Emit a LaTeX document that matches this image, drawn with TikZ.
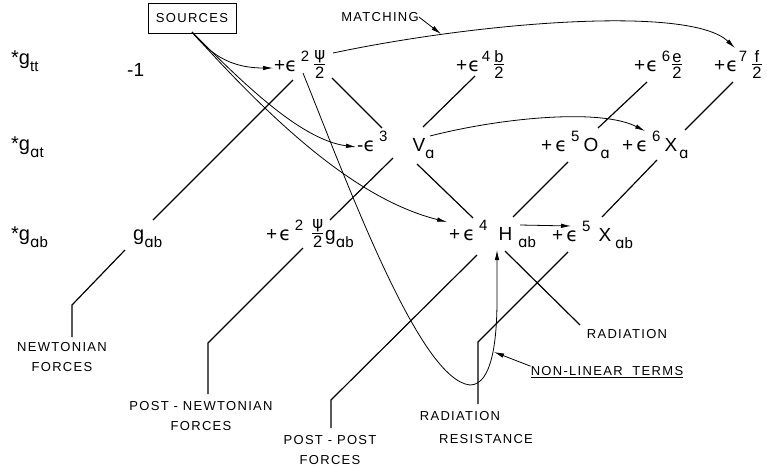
\documentclass[tikz,border=0pt]{standalone}
\usepackage{fontspec}
\setmainfont{Liberation Sans}
\newfontfamily\gr{DejaVu Sans}
\newfontfamily\lblfont[LetterSpace=10]{Liberation Sans}
\usetikzlibrary{arrows.meta}

% epsilon, raised power, lowered index, stacked fraction
\newcommand{\ep}{{\gr ϵ}}
\newcommand{\pw}[1]{\hspace{4pt}\raisebox{10pt}{\fontsize{15}{15}\selectfont #1}}
\newcommand{\lo}[1]{\raisebox{-7pt}{\fontsize{15}{15}\selectfont #1}}
\newcommand{\fra}[2]{\raisebox{-7pt}{\fontsize{16.5}{16.5}\selectfont\vbox{\halign{\hfil##\hfil\cr #1\cr\noalign{\kern1.2pt\hrule height0.9pt\kern1.5pt}#2\cr}}}}

\tikzset{
  term/.style={anchor=base west, inner sep=0pt, font=\fontsize{19}{22}\selectfont},
  bigg/.style={term, font=\fontsize{20}{22}\selectfont},
  lbl/.style={font=\lblfont\fontsize{13}{20}\selectfont, align=center, inner sep=0pt},
  lattice/.style={line width=1.2pt},
  fine/.style={line width=0.8pt},
  arr/.style={-{Latex[length=10pt,width=4.5pt]}}
}

\begin{document}
\begin{tikzpicture}[x=1pt,y=-1pt]
\useasboundingbox (0,0) rectangle (767,467);

% row labels
\node[bigg] (Rtt) at (11,64) {*g\lo{tt}};
\node[bigg] (Rat) at (11,150) {*g\lo{{\gr ɑ}t}};
\node[bigg] (Rab) at (11,240) {*g\lo{{\gr ɑ}b}};

% terms of the expansion
\node[term] (m1) at (127,76) {-1};
\node[term] (t1) at (274,71) {+\ep\pw{2}\hspace{5pt}\fra{\gr ψ}{2}};
\node[term] (t2) at (456,71) {+\hspace{1pt}\ep\hspace{-2pt}\pw{4}\hspace{4pt}\fra{b}{2}};
\node[term] (t3) at (634,71) {+\hspace{1pt}\ep\pw{6}\hspace{2pt}\fra{e}{2}};
\node[term] (t4) at (714,71) {+\hspace{1pt}\ep\hspace{-3pt}\pw{7}\hspace{5pt}\fra{f}{2}};

\node[term] (t5) at (357,151) {-\ep\pw{3}\hspace{25pt}V\lo{\gr ɑ}};
\node[term] (t6) at (541,151) {+\,\ep\pw{5}\hspace{4pt}O\hspace{2pt}\lo{\gr ɑ}};
\node[term] (t7) at (622,151) {+\,\ep\pw{6}\hspace{4pt}X\hspace{2pt}\lo{\gr ɑ}};

\node[bigg] (g0) at (133,240) {g\lo{{\gr ɑ}b}};
\node[term] (t8) at (266,240) {+\hspace{2pt}\ep\pw{2}\hspace{9pt}\fra{\gr ψ}{2}\hspace{2pt}g\lo{{\gr ɑ}b}};
\node[term] (t9) at (449,240) {+\,\ep\pw{4}\hspace{11pt}H\hspace{6pt}\lo{{\gr ɑ}b}};
\node[term] (t10) at (552,241) {+\,\ep\pw{5}\hspace{8pt}X\hspace{4pt}\lo{{\gr ɑ}b}};

% captions
\node[lbl, draw, line width=0.9pt, minimum height=30pt, minimum width=88pt] (src) at (192,18) {SOURCES};
\node[lbl] (match) at (380,17) {MATCHING};
\node[lbl] (newt) at (62,357) {NEWTONIAN\\FORCES};
\node[lbl] (pn) at (201,416) {POST - NEWTONIAN\\FORCES};
\node[lbl] (pp) at (330,450) {POST - POST\\FORCES};
\node[lbl] (rad) at (627,334) {RADIATION};
\node[lbl] (rr1) at (460,416) {RADIATION};
\node[lbl] (rr2) at (486,439) {RESISTANCE};
\node[lbl] (nl) at (607,372) {\underline{NON-LINEAR\ \ TERMS}};

% end points of the lattice lines
\coordinate (t1sw) at (293,80);   \coordinate (g0ne) at (153,220);
\coordinate (g0sw) at (125,250);  \coordinate (nbend) at (72,305);  \coordinate (nend) at (72,337);
\coordinate (t1se) at (332,78);   \coordinate (t5nw) at (382,128);
\coordinate (t2sw) at (475,76);   \coordinate (t5ne) at (423,127);
\coordinate (t5se) at (417,164);  \coordinate (t9nw) at (473,218);
\coordinate (t5sw) at (393,158);  \coordinate (t8ne) at (330,220);
\coordinate (t8sw) at (303,248);  \coordinate (pnbend) at (208,343); \coordinate (pnend) at (208,394);
\coordinate (t9sw) at (477,255);  \coordinate (ppbend) at (331,400); \coordinate (ppend) at (331,428);
\coordinate (t9se) at (505,251);  \coordinate (radend) at (580,325);
\coordinate (t10sw) at (568,252); \coordinate (rrbend) at (478,342); \coordinate (rrend) at (478,404);
\coordinate (t9ne) at (513,217);  \coordinate (t6s) at (568,162);
\coordinate (t10n) at (602,217);  \coordinate (t7s) at (657,160);
\coordinate (t6n) at (598,128);   \coordinate (t3s) at (647,82);
\coordinate (t7ne) at (685,130);  \coordinate (t4s) at (733,82);

% end points of the arrows
\coordinate (t9e) at (520,225);   \coordinate (t10w) at (571,226);
\coordinate (srcfoot) at (192,32);
\coordinate (t1w) at (273,68);    \coordinate (t5w) at (356,147);  \coordinate (t9w) at (447,222);
\coordinate (t1e) at (333,53);    \coordinate (t4n) at (735,48);   \coordinate (mtip) at (441,34);
\coordinate (t5e) at (430,136);   \coordinate (t7n) at (645,131);
\coordinate (t1s) at (303,73);    \coordinate (nlow) at (470,385); \coordinate (t9s) at (497,250);
\coordinate (nltip) at (494,352);

% lattice
\draw[lattice] (t1sw) -- (g0ne);
\draw[lattice] (g0sw) -- (nbend) -- (nend);
\draw[lattice] (t1se) -- (t5nw);
\draw[lattice] (t2sw) -- (t5ne);
\draw[lattice] (t5se) -- (t9nw);
\draw[lattice] (t5sw) -- (t8ne);
\draw[lattice] (t8sw) -- (pnbend) -- (pnend);
\draw[lattice] (t9sw) -- (ppbend) -- (ppend);
\draw[lattice] (t9se) -- (radend);
\draw[lattice] (t10sw) -- (rrbend) -- (rrend);
\draw[lattice] (t9ne) -- (t6s);
\draw[lattice] (t10n) -- (t7s);
\draw[lattice] (t6n) -- (t3s);
\draw[lattice] (t7ne) -- (t4s);

% arrows
\draw[fine,arr] (t9e) -- (t10w);
\draw[fine,arr] (srcfoot) .. controls (213,58) and (235,68) .. (t1w);
\draw[fine,arr] (srcfoot) .. controls (240,80) and (300,140) .. (t5w);
\draw[fine,arr] (srcfoot) .. controls (280,130) and (360,200) .. (t9w);
\draw[fine,arr] (t1e) .. controls (480,22) and (690,5) .. (t4n);
\draw[fine,arr] (match.east) -- (mtip);
\draw[fine,arr] (t5e) .. controls (500,118) and (600,108) .. (t7n);
\draw[fine,arr] (t1s) .. controls (350,190) and (420,380) .. (nlow)
  .. controls (492,385) and (497,340) .. (497,300) -- (t9s);
\draw[fine,arr] (nl.north west) -- (nltip);
\end{tikzpicture}
\end{document}
